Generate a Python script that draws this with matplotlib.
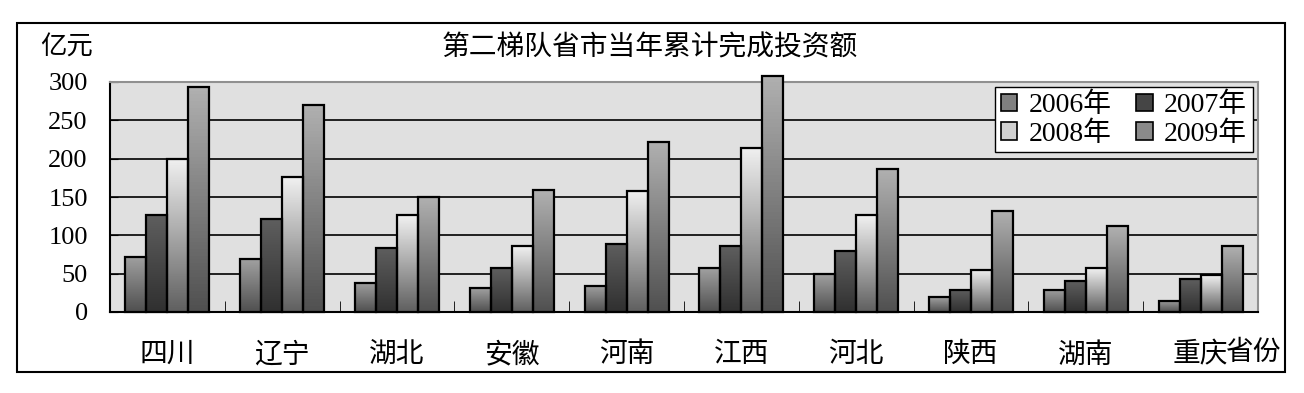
import numpy as np
import matplotlib
matplotlib.use("Agg")
import matplotlib.pyplot as plt
from matplotlib.patches import Rectangle, Patch

plt.rcParams['font.family'] = ['Liberation Serif', 'Noto Sans CJK SC']

# data
provinces = ['四川', '辽宁', '湖北', '安徽', '河南', '江西', '河北', '陕西', '湖南', '重庆']
years = ['2006年', '2007年', '2008年', '2009年']
v2006 = [72, 69, 38, 31, 34, 57, 49, 19, 29, 15]
v2007 = [126, 121, 83, 57, 89, 86, 79, 29, 40, 43]
v2008 = [200, 176, 126, 86, 158, 214, 126, 55, 57, 48]
v2009 = [293, 270, 150, 159, 222, 308, 186, 132, 112, 86]
yticks = [0, 50, 100, 150, 200, 250, 300]

series = [v2006, v2007, v2008, v2009]
# (top colour, bottom colour) of the vertical gradient per series
grads = [('#a0a0a0', '#505050'),
         ('#5e5e5e', '#303030'),
         ('#f0f0f0', '#606060'),
         ('#b0b0b0', '#505050')]
legend_cols = ['#808080', '#454545', '#d0d0d0', '#8a8a8a']

W, H = 1304, 393
fig = plt.figure(figsize=(W / 100, H / 100), dpi=100)
ax = fig.add_axes([110 / W, 1 - 312 / H, (1258 - 110) / W, (312 - 82) / H])
ax.set_facecolor('#e0e0e0')

x = np.arange(len(provinces))
bw = 0.183
for i, vals in enumerate(series):
    bars = ax.bar(x + (i - 1.5) * bw, vals, bw, facecolor='none',
                  edgecolor='black', linewidth=1.6, zorder=4, clip_on=False)
    top, bot = grads[i]
    cmap = matplotlib.colors.LinearSegmentedColormap.from_list('g%d' % i, [bot, top])
    grad = np.linspace(1, 0, 64).reshape(-1, 1)
    for b in bars:
        im = ax.imshow(grad, cmap=cmap, vmin=0, vmax=1, aspect='auto',
                       extent=[b.get_x(), b.get_x() + b.get_width(), 0, b.get_height()],
                       zorder=3, clip_on=False)
        im.set_clip_path(b)

ax.set_xlim(-0.5, len(provinces) - 0.5)
ax.set_ylim(0, 300)
ax.set_yticks(yticks)
ax.tick_params(axis='y', direction='in', length=6, labelsize=19, pad=16)
ax.set_xticks(x)
ax.set_xticklabels(provinces, fontsize=20)
ax.tick_params(axis='x', length=0, pad=22)
ax.set_xticks(np.arange(len(provinces) + 1) - 0.5, minor=True)
ax.tick_params(axis='x', which='minor', direction='in', length=8)
for s in yticks[1:-1]:
    ax.axhline(s, color='black', lw=1.2, zorder=1)
ax.spines['top'].set_color('#909090')
ax.spines['right'].set_color('#909090')
ax.spines['top'].set_linewidth(1.5)
ax.spines['right'].set_linewidth(1.5)
ax.spines['left'].set_linewidth(1.5)
ax.spines['bottom'].set_linewidth(1.5)

# legend is filled row by row in the reference
handles = [Patch(facecolor=c, edgecolor='black', linewidth=1.2) for c in legend_cols]
order = [0, 2, 1, 3]
ax.legend([handles[k] for k in order], [years[k] for k in order], ncol=2,
          loc='upper right', bbox_to_anchor=(1.0075, 1.037),
          fontsize=20, frameon=True, fancybox=False, edgecolor='black',
          handlelength=0.6, handleheight=0.6, handletextpad=0.4, columnspacing=0.9,
          borderpad=0.2, labelspacing=0.1, framealpha=1)

fig.text(650 / W, 1 - 48 / H, '第二梯队省市当年累计完成投资额', fontsize=20,
         ha='center', va='center')
fig.text(40 / W, 1 - 48 / H, '亿元', fontsize=19, ha='left', va='center')
fig.text(1226 / W, 1 - 353 / H, '省份', fontsize=20, ha='left', va='center')

fig.add_artist(Rectangle((17 / W, 1 - 372 / H), (1285 - 17) / W, (372 - 23) / H,
                         transform=fig.transFigure, fill=False, edgecolor='black',
                         linewidth=1.5))

fig.savefig('out.png', dpi=100)
